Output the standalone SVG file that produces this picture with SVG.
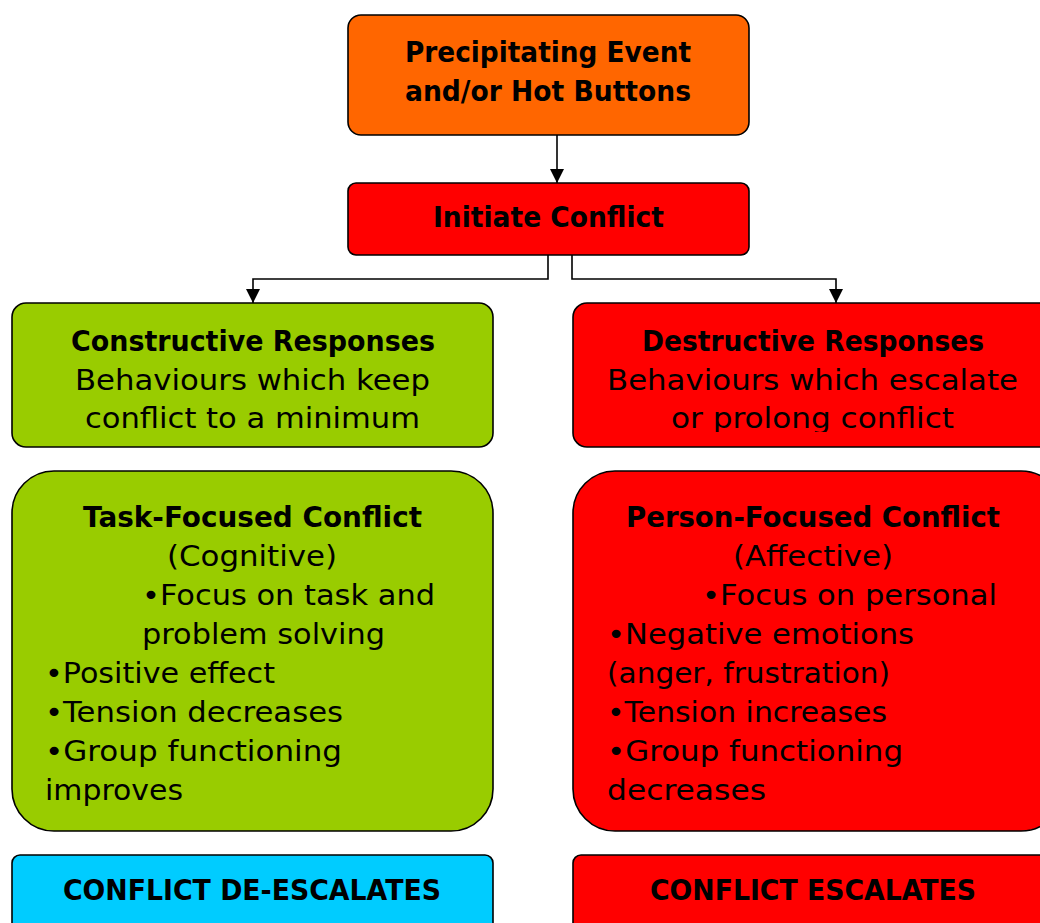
<svg xmlns="http://www.w3.org/2000/svg" width="1040" height="923" viewBox="0 0 1040 923">
<style>
.box{stroke:#000;stroke-width:1.6}
text{font-family:"DejaVu Sans","Liberation Sans",sans-serif;font-size:28px;fill:#000}
.b{font-weight:bold}
.c{text-anchor:middle}
.conn{fill:none;stroke:#000;stroke-width:1.6}
</style>
<defs>
<marker id="ah" markerWidth="14" markerHeight="14" refX="14" refY="7" orient="auto" markerUnits="userSpaceOnUse">
<path d="M0,0 L14,7 L0,14 Z" fill="#000"/>
</marker>
<clipPath id="clipD"><rect x="573" y="303" width="480" height="129"/></clipPath>
</defs>
<rect width="1040" height="923" fill="#fff"/>
<g id="connectors">
<path class="conn" d="M557,135 V183" marker-end="url(#ah)"/>
<path class="conn" d="M548,255 V279 H253 V303" marker-end="url(#ah)"/>
<path class="conn" d="M572,255 V279 H836 V303" marker-end="url(#ah)"/>
</g>
<g id="n-precipitating">
<rect class="box" x="348" y="15" width="401" height="120" rx="13" fill="#FF6600"/>
<text class="b" x="405" y="62" textLength="286" lengthAdjust="spacingAndGlyphs">Precipitating Event</text>
<text class="b" x="405" y="101" textLength="286" lengthAdjust="spacingAndGlyphs">and/or Hot Buttons</text>
</g>
<g id="n-initiate">
<rect class="box" x="348" y="183" width="401" height="72" rx="8" fill="#FF0000"/>
<text class="b" x="433" y="227" textLength="231" lengthAdjust="spacingAndGlyphs">Initiate Conflict</text>
</g>
<g id="n-constructive">
<rect class="box" x="12" y="303" width="481" height="144" rx="14" fill="#99CC00"/>
<text class="b" x="71" y="351" textLength="364" lengthAdjust="spacingAndGlyphs">Constructive Responses</text>
<text x="75" y="390" textLength="355" lengthAdjust="spacingAndGlyphs">Behaviours which keep</text>
<text x="85" y="428" textLength="335" lengthAdjust="spacingAndGlyphs">conflict to a minimum</text>
</g>
<g id="n-destructive">
<rect class="box" x="573" y="303" width="490" height="144" rx="14" fill="#FF0000"/>
<text class="b" x="642" y="351" textLength="342" lengthAdjust="spacingAndGlyphs">Destructive Responses</text>
<text x="607" y="390" textLength="411" lengthAdjust="spacingAndGlyphs">Behaviours which escalate</text>
<text x="671" y="428" textLength="283" lengthAdjust="spacingAndGlyphs" clip-path="url(#clipD)">or prolong conflict</text>
</g>
<g id="n-task">
<rect class="box" x="12" y="471" width="481" height="360" rx="42" fill="#99CC00"/>
<text class="b" x="83" y="527" textLength="339" lengthAdjust="spacingAndGlyphs">Task-Focused Conflict</text>
<text x="167" y="566" textLength="170" lengthAdjust="spacingAndGlyphs">(Cognitive)</text>
<text x="142" y="605" textLength="293" lengthAdjust="spacingAndGlyphs">•Focus on task and</text>
<text x="142" y="644" textLength="243" lengthAdjust="spacingAndGlyphs">problem solving</text>
<text x="45" y="683" textLength="230" lengthAdjust="spacingAndGlyphs">•Positive effect</text>
<text x="45" y="722" textLength="298" lengthAdjust="spacingAndGlyphs">•Tension decreases</text>
<text x="45" y="761" textLength="297" lengthAdjust="spacingAndGlyphs">•Group functioning</text>
<text x="45" y="800" textLength="138" lengthAdjust="spacingAndGlyphs">improves</text>
</g>
<g id="n-person">
<rect class="box" x="573" y="471" width="490" height="360" rx="42" fill="#FF0000"/>
<text class="b" x="626" y="527" textLength="374" lengthAdjust="spacingAndGlyphs">Person-Focused Conflict</text>
<text x="733" y="566" textLength="160" lengthAdjust="spacingAndGlyphs">(Affective)</text>
<text x="702" y="605" textLength="295" lengthAdjust="spacingAndGlyphs">•Focus on personal</text>
<text x="607" y="644" textLength="307" lengthAdjust="spacingAndGlyphs">•Negative emotions</text>
<text x="607" y="683" textLength="283" lengthAdjust="spacingAndGlyphs">(anger, frustration)</text>
<text x="607" y="722" textLength="280" lengthAdjust="spacingAndGlyphs">•Tension increases</text>
<text x="607" y="761" textLength="296" lengthAdjust="spacingAndGlyphs">•Group functioning</text>
<text x="607" y="800" textLength="159" lengthAdjust="spacingAndGlyphs">decreases</text>
</g>
<g id="n-deescalates">
<rect class="box" x="12" y="855" width="481" height="90" rx="8" fill="#00CCFF"/>
<text class="b" x="63" y="900" textLength="378" lengthAdjust="spacingAndGlyphs">CONFLICT DE-ESCALATES</text>
</g>
<g id="n-escalates">
<rect class="box" x="573" y="855" width="490" height="90" rx="8" fill="#FF0000"/>
<text class="b" x="650" y="900" textLength="326" lengthAdjust="spacingAndGlyphs">CONFLICT ESCALATES</text>
</g>
</svg>
